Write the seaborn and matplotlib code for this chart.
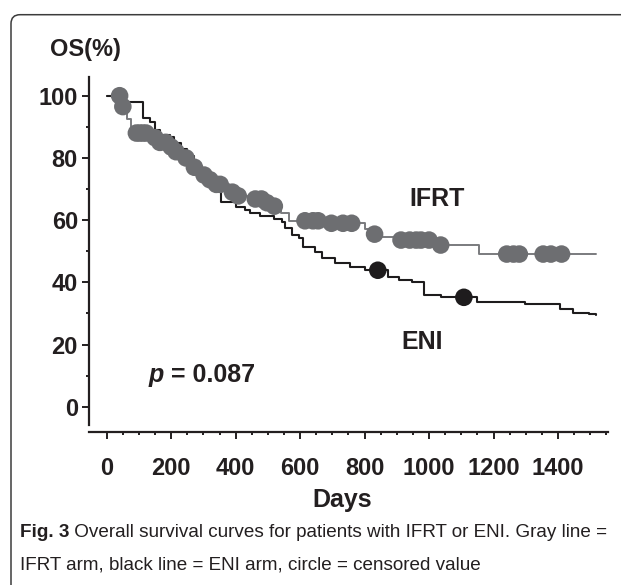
import numpy as np
import pandas as pd
import matplotlib
matplotlib.use("Agg")
import matplotlib.pyplot as plt
from matplotlib.patches import FancyBboxPatch
from matplotlib.transforms import IdentityTransform
from matplotlib.ticker import FixedLocator
import seaborn as sns

# Kaplan-Meier step points (day, survival %)
ifrt_days = [0, 48, 63, 75, 130, 160, 190, 210, 235, 260, 290, 315, 335, 380, 400,
             450, 490, 510, 540, 564, 690, 800, 820, 850, 900, 1020, 1154, 1518]
ifrt_surv = [100, 96.5, 92.5, 88, 86.5, 85, 83.5, 82, 80, 77, 74.5, 73, 71.5, 69, 67.8,
             66.8, 65.6, 64.5, 62.2, 59.8, 59, 57, 55.5, 54.7, 53.6, 52, 49.1, 49.1]

eni_days = [0, 45, 113, 133, 149, 164, 195, 210, 230, 250, 270, 290, 310, 330, 354,
            400, 430, 446, 477, 520, 543, 554, 574, 595, 610, 646, 667, 708, 754, 800,
            872, 908, 948, 985, 1036, 1149, 1297, 1405, 1446, 1497, 1518]
eni_surv = [100, 97.9, 92.7, 91.6, 89, 87.4, 86.8, 84.9, 83, 80.5, 78, 75, 72, 70.7, 65.9,
            64.3, 63.3, 62.4, 61.3, 60.3, 59.5, 57.4, 55.2, 54.2, 51.4, 49.8, 47.7, 46.1, 44.8, 43.9,
            41.8, 40.7, 40.2, 35.9, 35.2, 33.8, 33, 31.6, 30.2, 29.8, 29.5]

# censored observations (days)
ifrt_cens = [40, 50, 92, 102, 112, 122, 150, 165, 183, 200, 215, 246, 272, 302, 320, 340,
             352, 390, 408, 461, 480, 497, 520, 615, 640, 656, 697, 733, 760, 831,
             913, 940, 960, 975, 1000, 1036, 1241, 1262, 1280, 1354, 1378, 1411]
eni_cens = [841, 1108]

x_ticks = [0, 200, 400, 600, 800, 1000, 1200, 1400]
y_ticks = [0, 20, 40, 60, 80, 100]


def surv_at(days, surv, t):
    idx = np.searchsorted(days, t, side="right") - 1
    return np.asarray(surv)[idx]


curves = pd.concat([
    pd.DataFrame({"day": ifrt_days, "os": ifrt_surv, "arm": "IFRT"}),
    pd.DataFrame({"day": eni_days, "os": eni_surv, "arm": "ENI"}),
])
cens = pd.concat([
    pd.DataFrame({"day": ifrt_cens, "os": surv_at(ifrt_days, ifrt_surv, ifrt_cens), "arm": "IFRT"}),
    pd.DataFrame({"day": eni_cens, "os": surv_at(eni_days, eni_surv, eni_cens), "arm": "ENI"}),
])

sns.set_style("ticks")
plt.rcParams["font.family"] = ["Liberation Sans", "DejaVu Sans"]

gray = "#6d6e71"
black = "#1e1c1d"
pal = {"IFRT": gray, "ENI": black}

fig = plt.figure(figsize=(6.21, 5.85), dpi=100)
ax = fig.add_axes([0.1433, 0.2615, 0.8357, 0.6068])

sns.lineplot(data=curves[curves.arm == "IFRT"], x="day", y="os", color="#7a7b7e",
             drawstyle="steps-post", estimator=None, lw=1.4, ax=ax, legend=False)
sns.lineplot(data=curves[curves.arm == "ENI"], x="day", y="os", color=black,
             drawstyle="steps-post", estimator=None, lw=1.5, ax=ax, legend=False)
sns.scatterplot(data=cens, x="day", y="os", hue="arm", palette=pal, s=160,
                edgecolor="none", ax=ax, legend=False, zorder=3)

ax.set_xlim(-55, 1555)
ax.set_ylim(-8.1, 106)
ax.spines["top"].set_visible(False)
ax.spines["right"].set_visible(False)
ax.spines["left"].set_bounds(-6, 106)
ax.spines["bottom"].set_bounds(-55, 1555)
for s in ["left", "bottom"]:
    ax.spines[s].set_linewidth(1.6)
    ax.spines[s].set_color("#231f20")

ax.set_xticks(x_ticks)
ax.set_yticks(y_ticks)
ax.xaxis.set_minor_locator(FixedLocator([d for d in range(50, 1600, 50) if d % 200]))
ax.yaxis.set_minor_locator(FixedLocator([10, 30, 50, 70, 90]))
ax.tick_params(axis="both", which="major", length=5, width=1.4, color="#231f20",
               labelsize=17, labelcolor="#231f20")
ax.tick_params(axis="both", which="minor", length=2.5, width=1.4, color="#231f20")
ax.tick_params(axis="x", which="major", pad=13)
ax.tick_params(axis="y", which="major", pad=3)
for lab in ax.get_xticklabels() + ax.get_yticklabels():
    lab.set_fontweight("bold")

ax.set_xlabel("")
ax.set_ylabel("")
fig.text(0.5515, 0.146, "Days", ha="center", va="center", fontsize=18,
         fontweight="bold", color="#231f20")
fig.text(0.0805, 0.916, "OS(%)", ha="left", va="center", fontsize=17,
         fontweight="bold", color="#231f20")

ax.text(1025, 66.8, "IFRT", ha="center", va="center", fontsize=18,
        fontweight="bold", color="#231f20")
ax.text(980, 20.8, "ENI", ha="center", va="center", fontsize=18,
        fontweight="bold", color="#231f20")
tp = ax.text(130, 10.2, "p", ha="left", va="center", fontsize=18,
             fontweight="bold", style="italic", color="#231f20")
ax.annotate(" = 0.087", xy=(1, 0), xycoords=tp, ha="left", va="bottom",
            fontsize=18, fontweight="bold", color="#231f20")

# caption
cap_size = 13.6
t1 = fig.text(0.032, 0.089, "Fig. 3", ha="left", va="center", fontsize=cap_size,
              fontweight="bold", color="#231f20")
plt.annotate(" Overall survival curves for patients with IFRT or ENI. Gray line =",
             xy=(1, 0), xycoords=t1, ha="left", va="bottom", fontsize=cap_size,
             color="#231f20", annotation_clip=False)
fig.text(0.032, 0.034, "IFRT arm, black line = ENI arm, circle = censored value",
         ha="left", va="center", fontsize=cap_size, color="#231f20")

# rounded panel border
border = FancyBboxPatch((11, -30), 680, 585 - 14.7 + 30,
                        boxstyle="round,pad=0,rounding_size=9",
                        transform=IdentityTransform(), fill=False,
                        edgecolor="#3c3c3c", lw=1.1)
fig.add_artist(border)

fig.savefig("out.png", dpi=100)
